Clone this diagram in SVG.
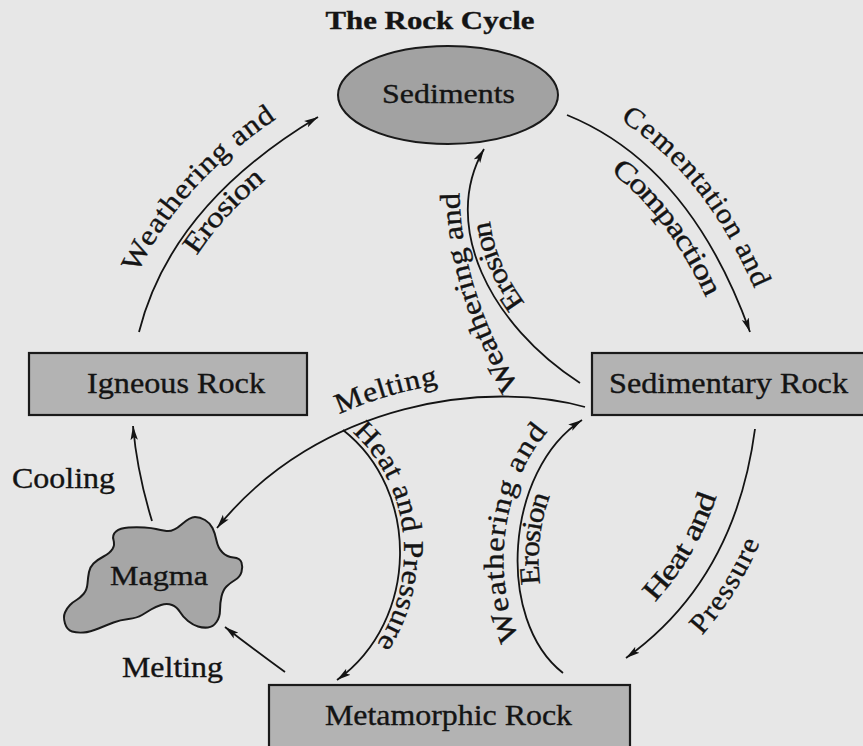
<svg xmlns="http://www.w3.org/2000/svg" width="863" height="746" viewBox="0 0 863 746">
<style>
.t{font-family:"Liberation Serif","Times New Roman",serif;fill:#141414;stroke:#141414;stroke-width:0.35}
.c{fill:none;stroke:#141414;stroke-width:1.8}
.box{fill:#b3b3b3;stroke:#1a1a1a;stroke-width:2.2}
</style>
<defs>
<marker id="ah" markerUnits="userSpaceOnUse" markerWidth="15" markerHeight="9" refX="14" refY="4.5" orient="auto"><path d="M0,0.8 L14,4.5 L0,8.2 L3,4.5 Z" fill="#141414"/></marker>
<path id="t2" d="M520,388 Q455,280 460,175"/>
<path id="t4" d="M217,528 C320,400 490,380 585,407"/>
<path id="t7" d="M626,658 Q735,580 755,429"/>
</defs>
<rect width="863" height="746" fill="#e7e7e7"/>
<text class="t" x="430" y="29" text-anchor="middle" font-weight="bold" font-size="25" textLength="209" lengthAdjust="spacingAndGlyphs">The Rock Cycle</text>

<g id="connectors">
<path id="a1" class="c" d="M139,332 Q171,205 318,117" marker-end="url(#ah)"/>
<path id="a2" class="c" d="M580,383 C490,325 440,225 484,149" marker-end="url(#ah)"/>
<path id="a3" class="c" d="M567,115 Q690,165 750,332" marker-end="url(#ah)"/>
<path id="a4" class="c" d="M585,407 C490,380 320,400 217,528" marker-end="url(#ah)"/>
<path id="a5" class="c" d="M343,430 C420,490 420,620 337,680" marker-end="url(#ah)"/>
<path id="a6" class="c" d="M563,673 C495,620 505,470 582,420" marker-end="url(#ah)"/>
<path id="a7" class="c" d="M755,429 Q735,580 626,658" marker-end="url(#ah)"/>
<path id="a8" class="c" d="M152,521 Q137,472 133,426" marker-end="url(#ah)"/>
<path id="a9" class="c" d="M285,672 Q257,652 225,627" marker-end="url(#ah)"/>
</g>

<g id="connector-labels" class="t" font-size="28.5">
<text><textPath href="#a1" startOffset="52" textLength="200" lengthAdjust="spacingAndGlyphs"><tspan dy="-21">Weathering and</tspan></textPath></text>
<text><textPath href="#a1" startOffset="98" textLength="108" lengthAdjust="spacingAndGlyphs"><tspan dy="22">Erosion</tspan></textPath></text>
<text><textPath href="#t2" startOffset="2" textLength="205" lengthAdjust="spacingAndGlyphs">Weathering and</textPath></text>
<text><textPath href="#a2" startOffset="100" textLength="100" lengthAdjust="spacingAndGlyphs"><tspan dy="22">Erosion</tspan></textPath></text>
<text><textPath href="#a3" startOffset="47" textLength="208" lengthAdjust="spacingAndGlyphs"><tspan dy="-20">Cementation and</tspan></textPath></text>
<text><textPath href="#a3" startOffset="71" textLength="172" lengthAdjust="spacingAndGlyphs"><tspan dy="28">Compaction</tspan></textPath></text>
<text><textPath href="#t4" startOffset="163" textLength="100" lengthAdjust="spacingAndGlyphs"><tspan dy="-17">Melting</tspan></textPath></text>
<text><textPath href="#a5" startOffset="8" textLength="227" lengthAdjust="spacingAndGlyphs"><tspan dy="-4">Heat and Pressure</tspan></textPath></text>
<text><textPath href="#a6" startOffset="50" textLength="205" lengthAdjust="spacingAndGlyphs"><tspan dy="-14">Weathering and</tspan></textPath></text>
<text><textPath href="#a6" startOffset="100" textLength="98" lengthAdjust="spacingAndGlyphs"><tspan dy="21">Erosion</tspan></textPath></text>
<text><textPath href="#t7" startOffset="62" textLength="132" lengthAdjust="spacingAndGlyphs"><tspan dy="-23">Heat and</tspan></textPath></text>
<text><textPath href="#t7" startOffset="67" textLength="100" lengthAdjust="spacingAndGlyphs"><tspan dy="34">Pressure</tspan></textPath></text>
<text x="63.5" y="488" text-anchor="middle" textLength="103" lengthAdjust="spacingAndGlyphs">Cooling</text>
<text x="172.5" y="677" text-anchor="middle" textLength="101" lengthAdjust="spacingAndGlyphs">Melting</text>
</g>

<g id="sediments">
<ellipse cx="448" cy="95" rx="110" ry="49" fill="#a2a2a2" stroke="#1a1a1a" stroke-width="2"/>
<text class="t" x="448.5" y="103" text-anchor="middle" font-size="27.5" textLength="133" lengthAdjust="spacingAndGlyphs">Sediments</text>
</g>
<g id="igneous-rock">
<rect class="box" x="29" y="353" width="278" height="62"/>
<text class="t" x="176" y="393" text-anchor="middle" font-size="30" textLength="178" lengthAdjust="spacingAndGlyphs">Igneous Rock</text>
</g>
<g id="sedimentary-rock">
<rect class="box" x="592" y="353" width="285" height="62"/>
<text class="t" x="728.5" y="393" text-anchor="middle" font-size="30" textLength="239" lengthAdjust="spacingAndGlyphs">Sedimentary Rock</text>
</g>
<g id="metamorphic-rock">
<rect class="box" x="269" y="685" width="361" height="70"/>
<text class="t" x="448.5" y="725" text-anchor="middle" font-size="30" textLength="247" lengthAdjust="spacingAndGlyphs">Metamorphic Rock</text>
</g>
<g id="magma">
<path d="M113.5,540 Q112,535 116,531.5 Q120,528 128.5,527.5 Q137,527 144.5,527.5 Q152,528 156,529 Q160,530 166.5,531 Q173,532 181.5,524.5 Q190,517 195,517 Q200,517 205,520 Q210,523 212.5,528 Q215,533 216.5,540.5 Q218,548 222.5,552.5 Q227,557 233.5,557.5 Q240,558 241.5,562.5 Q243,567 241.5,572 Q240,577 235,580 Q230,583 226.5,586.5 Q223,590 221.5,596.5 Q220,603 220,610 Q220,617 216.5,622 Q213,627 208,627.5 Q203,628 198,626.5 Q193,625 188,621 Q183,617 180,612 Q177,607 172,605 Q167,603 161,605 Q155,607 151,609.5 Q147,612 142,615 Q137,618 128.5,619 Q120,620 113.5,622.5 Q107,625 98.5,628.5 Q90,632 83.5,632.5 Q77,633 72,631.5 Q67,630 65,623.5 Q63,617 65,612.5 Q67,608 70,605 Q73,602 76.5,600 Q80,598 83.5,594 Q87,590 87.5,583.5 Q88,577 89,572 Q90,567 93.5,563.5 Q97,560 103.5,556.5 Q110,553 112.5,549 Q115,545 113.5,540 Z" fill="#a6a6a6" stroke="#1a1a1a" stroke-width="2"/>
<text class="t" x="159" y="585" text-anchor="middle" font-size="28" textLength="98" lengthAdjust="spacingAndGlyphs">Magma</text>
</g>
</svg>
